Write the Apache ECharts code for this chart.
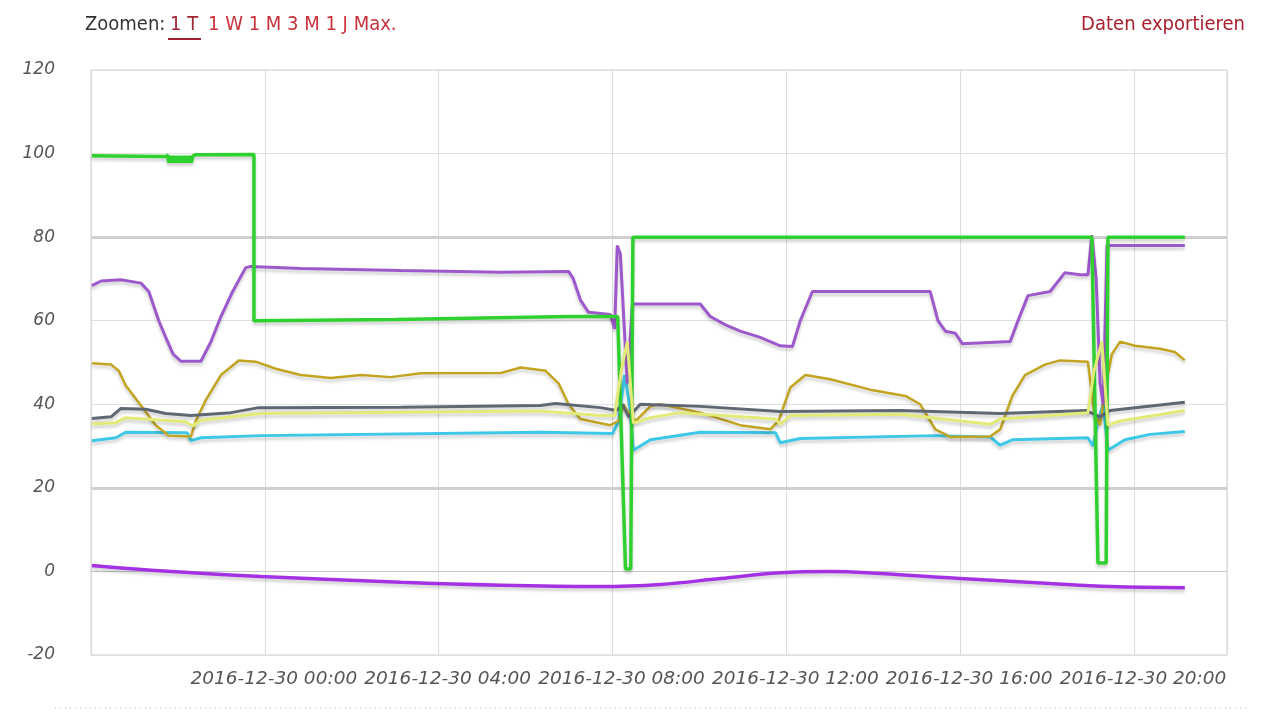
<!DOCTYPE html>
<html>
<head>
<meta charset="utf-8">
<script src="https://cdn.jsdelivr.net/npm/echarts@6/dist/echarts.min.js"></script>
<style>html,body{margin:0;padding:0;background:#fff;}#c{width:1280px;height:720px;}</style>
</head>
<body>
<div id="c"></div>
<script>
// hours relative to 2016-12-30 00:00
const xTickLabels = {0:'2016-12-30 00:00',4:'2016-12-30 04:00',8:'2016-12-30 08:00',12:'2016-12-30 12:00',16:'2016-12-30 16:00',20:'2016-12-30 20:00'};
const yTicks = [-20,0,20,40,60,80,100,120];

const greenSeries = [[-3.98,99.5],[-2.28,99.3],[-2.23,99.6],[-2.21,97.8],[-2.19,99.5],[-2.17,97.8],[-2.15,99.5],[-2.13,97.8],[-2.11,99.5],[-2.09,97.8],[-2.07,99.5],[-2.05,97.8],[-2.03,99.5],[-2.01,97.8],[-1.99,99.5],[-1.97,97.8],[-1.95,99.5],[-1.93,97.8],[-1.91,99.5],[-1.89,97.8],[-1.87,99.5],[-1.85,97.8],[-1.83,99.5],[-1.81,97.8],[-1.79,99.5],[-1.77,97.8],[-1.75,99.5],[-1.73,97.8],[-1.71,99.5],[-1.69,97.8],[-1.66,99.4],[-1.6,99.7],[-0.25,99.8],[-0.25,60],[3.0,60.3],[7.0,61],[8.12,61],[8.3,0.6],[8.42,0.6],[8.47,80],[19.03,80],[19.17,2],[19.36,2],[19.4,80],[21.17,80]];
const purpleSeries = [[-3.98,68.4],[-3.77,69.5],[-3.31,69.8],[-2.85,69],[-2.67,67],[-2.44,60],[-2.28,56],[-2.11,52],[-1.93,50.3],[-1.47,50.3],[-1.24,55],[-1.01,61],[-0.74,67],[-0.44,72.7],[-0.32,73],[0.83,72.5],[3.13,72],[5.43,71.6],[6.99,71.8],[7.1,70],[7.26,65],[7.45,62],[7.95,61.5],[8.05,58],[8.11,78],[8.18,76],[8.34,45],[8.46,64],[10.02,64],[10.25,61],[10.6,59],[10.94,57.5],[11.4,56],[11.86,54],[12.14,53.8],[12.32,60],[12.6,67],[15.31,67],[15.49,60],[15.66,57.5],[15.89,57],[16.05,54.5],[17.15,55],[17.33,60],[17.56,66],[18.07,67],[18.41,71.5],[18.76,71],[18.94,71],[19.03,80.5],[19.13,70],[19.22,45],[19.29,40],[19.38,78],[21.17,78]];
const oliveSeries = [[-3.98,49.8],[-3.54,49.5],[-3.36,48],[-3.2,44.5],[-2.85,39.7],[-2.51,35],[-2.21,32.5],[-1.7,32.3],[-1.59,36],[-1.36,41],[-1.01,47],[-0.6,50.5],[-0.21,50.2],[0.25,48.5],[0.83,47],[1.52,46.3],[2.21,47],[2.9,46.5],[3.59,47.4],[5.43,47.5],[5.89,48.8],[6.46,48],[6.76,45],[6.99,40],[7.26,36.5],[7.95,35],[8.14,36],[8.25,40],[8.37,38],[8.53,36],[8.87,39.5],[9.1,40],[10.02,38],[10.94,35],[11.63,34],[11.82,36],[12.09,44],[12.44,47],[13.01,46],[13.93,43.5],[14.74,42],[15.08,40],[15.43,34],[15.77,32.2],[16.69,32.3],[16.92,34],[17.2,42],[17.49,47],[17.95,49.5],[18.3,50.5],[18.94,50.2],[19.08,38],[19.22,35],[19.36,45],[19.49,52],[19.68,55],[20.02,54],[20.6,53.3],[20.94,52.5],[21.17,50.5]];
const graySeries = [[-3.98,36.6],[-3.54,37],[-3.31,39],[-2.74,38.8],[-2.28,37.8],[-1.7,37.3],[-0.78,38],[-0.14,39.2],[3.13,39.3],[6.34,39.7],[6.69,40.2],[7.72,39.2],[8.09,38.5],[8.23,40],[8.37,37],[8.64,40],[10.02,39.5],[11.86,38.3],[14.62,38.5],[16.92,37.8],[18.9,38.5],[19.22,37],[19.45,38.5],[21.17,40.5]];
const yellowSeries = [[-3.98,35.3],[-3.43,35.6],[-3.2,36.8],[-1.82,35.8],[-1.66,34.8],[-1.47,36.2],[-0.09,37.8],[6.34,38.4],[7.72,37.3],[8.05,37.3],[8.2,48],[8.34,55],[8.48,35.5],[8.87,36.8],[9.56,38],[11.75,36.5],[11.86,35.2],[12.09,37.3],[14.62,37.6],[16.69,35.2],[16.92,36.5],[18.94,38],[19.08,48],[19.26,55],[19.4,35],[19.68,36],[21.17,38.5]];
const cyanSeries = [[-3.98,31.3],[-3.43,32],[-3.2,33.3],[-1.79,33.2],[-1.7,31.3],[-1.47,32],[-0.09,32.5],[6.34,33.3],[8.0,33],[8.14,36],[8.28,47],[8.39,40],[8.48,29],[8.87,31.5],[10.02,33.3],[11.75,33.2],[11.86,30.8],[12.32,31.8],[15.43,32.5],[16.69,32.2],[16.92,30.2],[17.2,31.5],[18.94,32],[19.06,30],[19.17,36],[19.29,40],[19.4,29],[19.79,31.5],[20.37,32.8],[21.17,33.5]];
const violetSeries = [[-3.98,1.4],[-2.62,0.3],[-0.09,-1.2],[3.13,-2.6],[5.43,-3.3],[7.72,-3.6],[9.1,-3.1],[10.48,-1.7],[11.86,-0.3],[13.01,0],[14.16,-0.5],[16.0,-1.7],[18.07,-2.9],[19.45,-3.6],[21.17,-3.9]];

const chart = echarts.init(document.getElementById('c'));
const shadow = {shadowColor:'rgba(0,0,0,0.18)', shadowBlur:3, shadowOffsetY:3};
function mk(name, data, color, width, z, smooth){
  return {name, type:'line', data, showSymbol:false, symbol:'none', z:z||2, smooth:smooth||false,
    lineStyle:Object.assign({color, width}, shadow), itemStyle:{color}, animation:false};
}
const lblFont = {fontFamily:'DejaVu Sans', fontStyle:'italic', fontSize:18.5, color:'#555'};
const topFont = '20px "DejaVu Sans Condensed", "Liberation Sans Narrow", "Roboto", sans-serif';
chart.setOption({
  animation:false,
  grid:{left:91, right:53, top:70, bottom:65, show:true, borderColor:'#d0d0d0', borderWidth:1},
  xAxis:{type:'value', min:-4, max:22.14, interval:4,
    axisLine:{show:true, lineStyle:{color:'#c8c8c8'}}, axisTick:{show:false},
    splitLine:{show:true, lineStyle:{color:'#dcdcdc', width:1}},
    axisLabel:Object.assign({margin:15, padding:[0,0,0,18], showMinLabel:false,
      formatter:v=>xTickLabels[v]||''}, lblFont)},
  yAxis:{type:'value', min:-20, max:120, interval:20,
    axisLine:{show:false}, axisTick:{show:false},
    splitLine:{show:true, lineStyle:{color:'#e0e0e0', width:1}},
    axisLabel:Object.assign({margin:36, formatter:v=>yTicks.includes(v)?String(v):''}, lblFont, {fontSize:17})},
  series:[
    Object.assign(mk('ref', [], '#ccc', 1, 1), {markLine:{silent:true, symbol:'none', label:{show:false},
      lineStyle:{color:'#cfcfcf', width:3, type:'solid'}, data:[{yAxis:80},{yAxis:20}]}}),
    mk('violet', violetSeries, '#a432e4', 3.5, 3, 0.4),
    mk('cyan', cyanSeries, '#3cc8e6', 3, 3),
    mk('olive', oliveSeries, '#c2a420', 2.5, 3),
    mk('gray', graySeries, '#5f6773', 3, 3),
    mk('purple', purpleSeries, '#9d58cc', 3, 4),
    mk('green', greenSeries, '#2fd12f', 3.5, 5),
    mk('yellow', yellowSeries, '#e2ea78', 3, 6)
  ],
  graphic:[
    {type:'text', left:85, top:15, style:{text:'Zoomen:', fill:'#333', font:topFont}},
    {type:'text', left:170, top:15, style:{text:'1 T', fill:'#9e2430', font:topFont}},
    {type:'line', shape:{x1:168, y1:39, x2:201, y2:39}, style:{stroke:'#9e2430', lineWidth:2}},
    {type:'text', left:208, top:15, style:{text:'1 W 1 M 3 M 1 J Max.', fill:'#c8323a', font:topFont}},
    {type:'text', right:35, top:15, style:{text:'Daten exportieren', fill:'#a8202e', font:topFont}},
    {type:'line', shape:{x1:55, y1:708, x2:1250, y2:708}, style:{stroke:'#bbbbbb', lineWidth:1, lineDash:[1,4]}}
  ]
});
</script>
</body>
</html>
